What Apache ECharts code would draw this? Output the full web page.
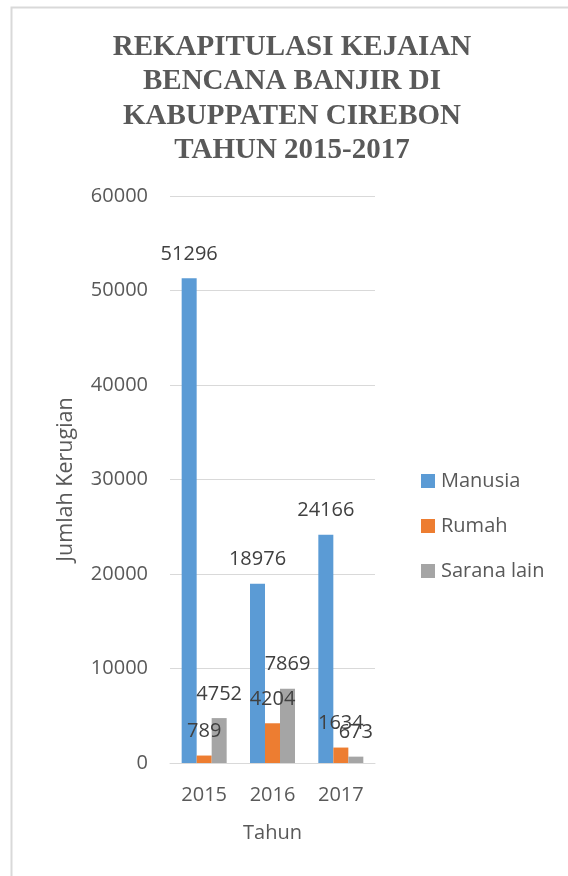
<!DOCTYPE html>
<html>
<head>
<meta charset="utf-8">
<script src="https://cdn.jsdelivr.net/npm/echarts@6/dist/echarts.min.js"></script>
<style>
html,body{margin:0;padding:0;background:#fff;}
#chart{width:568px;height:876px;}
</style>
</head>
<body>
<div id="chart"></div>
<script>
const categories = ['2015', '2016', '2017'];
const manusia = [51296, 18976, 24166];
const rumah = [789, 4204, 1634];
const saranaLain = [4752, 7869, 673];
const seriesNames = ['Manusia', 'Rumah', 'Sarana lain'];
const yTicks = [0, 10000, 20000, 30000, 40000, 50000, 60000];
const titleText = 'REKAPITULASI KEJAIAN\nBENCANA BANJIR DI\nKABUPPATEN CIREBON\nTAHUN 2015-2017';

const FONT = 'Open Sans';
const colors = ['#5B9BD5', '#ED7D31', '#A5A5A5'];

const chart = echarts.init(document.getElementById('chart'));
const labelCfg = {
  show: true, position: 'top', distance: 14,
  color: '#404040', fontFamily: FONT, fontSize: 20
};
function mk(name, data, i) {
  return {
    name: name, type: 'bar', data: data, barWidth: 15, barGap: '0%',
    itemStyle: { color: colors[i] }, label: labelCfg
  };
}
chart.setOption({
  animation: false,
  textStyle: { fontFamily: FONT },
  title: {
    text: titleText, left: 287, top: 25, textAlign: 'center',
    textStyle: { fontFamily: 'Liberation Serif', fontWeight: 'bold', fontSize: 29, lineHeight: 34.5, color: '#595959' }
  },
  graphic: [{
    type: 'rect', shape: { x: 11.5, y: 7.5, width: 700, height: 1000 },
    style: { fill: 'none', stroke: '#d9d9d9', lineWidth: 2 }, silent: true
  }],
  legend: {
    orient: 'vertical', left: 416, top: 466, itemWidth: 14, itemHeight: 14, itemGap: 25,
    icon: 'rect',
    textStyle: { fontFamily: FONT, fontSize: 20, color: '#595959', padding: [0, 0, 0, 1] },
    data: seriesNames
  },
  grid: { left: 170, right: 193, top: 196, bottom: 113 },
  xAxis: {
    type: 'category', data: categories,
    name: 'Tahun', nameLocation: 'middle', nameGap: 60,
    nameTextStyle: { fontFamily: FONT, fontSize: 20, color: '#595959' },
    axisLine: { lineStyle: { color: '#d9d9d9', width: 1 } },
    axisTick: { show: false },
    axisLabel: { fontFamily: FONT, fontSize: 20, color: '#595959', margin: 22 }
  },
  yAxis: {
    type: 'value', min: yTicks[0], max: yTicks[yTicks.length - 1], interval: 10000,
    name: 'Jumlah Kerugian', nameLocation: 'middle', nameGap: 93, nameRotate: 90,
    nameTextStyle: { fontFamily: FONT, fontSize: 21.5, color: '#595959' },
    axisLine: { show: false }, axisTick: { show: false },
    splitLine: { lineStyle: { color: '#d9d9d9', width: 1 } },
    axisLabel: { fontFamily: FONT, fontSize: 20, color: '#595959', margin: 22, formatter: v => String(v) }
  },
  series: [mk(seriesNames[0], manusia, 0), mk(seriesNames[1], rumah, 1), mk(seriesNames[2], saranaLain, 2)]
});
</script>
</body>
</html>
